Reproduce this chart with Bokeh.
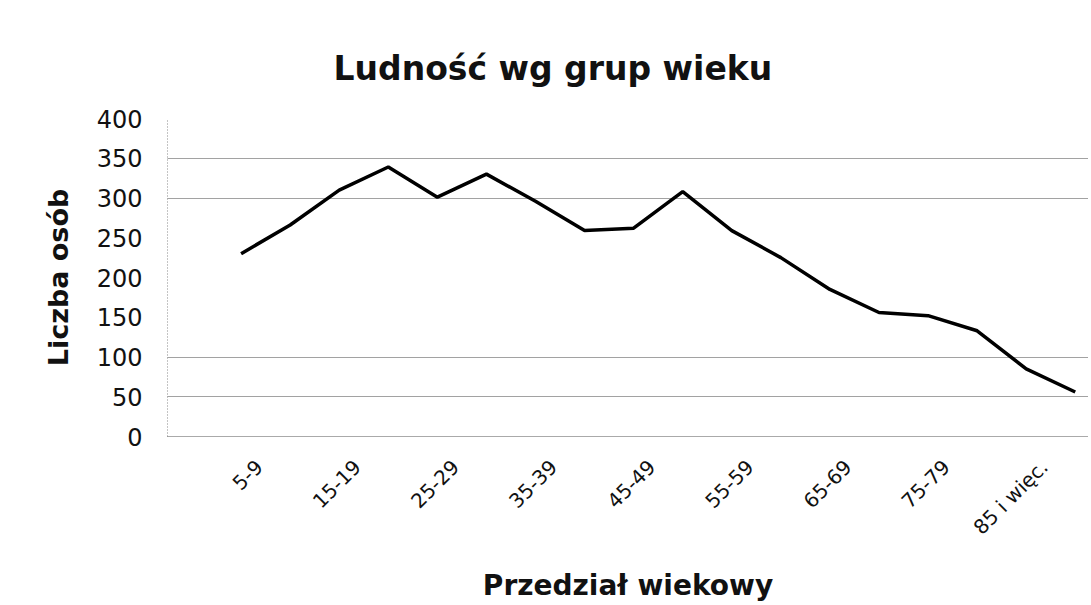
import math
from bokeh.plotting import figure
from bokeh.models import FixedTicker, Range1d
from bokeh.embed import file_html
from bokeh.resources import INLINE

# ---- data ----
age_groups = ["0-4", "5-9", "10-14", "15-19", "20-24", "25-29", "30-34", "35-39",
              "40-44", "45-49", "50-54", "55-59", "60-64", "65-69", "70-74",
              "75-79", "80-84", "85 i więc."]
population = [230, 266, 310, 339, 301, 330, 296, 259, 262, 308, 259, 225,
              185, 156, 152, 133, 85, 56]
y_ticks = [0, 50, 100, 150, 200, 250, 300, 350, 400]
grid_levels = [50, 100, 300, 350]

title_text = "Ludność wg grup wieku"
x_title = "Przedział wiekowy"
y_title = "Liczba osób"

# category positions (first slot on the axis is an empty category)
positions = list(range(1, len(age_groups) + 1))
label_pos = [positions[i] - 0.63 for i in range(1, len(age_groups), 2)]
label_txt = [age_groups[i] for i in range(1, len(age_groups), 2)]

FONT = "DejaVu Sans"

p = figure(width=1088, height=604, output_backend="svg", toolbar_location=None,
           x_range=Range1d(-0.5, 18.27), y_range=Range1d(0, 400),
           min_border_left=167, min_border_right=0, min_border_top=118,
           min_border_bottom=163)
p.outline_line_color = None
p.background_fill_color = "white"
p.border_fill_color = "white"

p.title.text = title_text
p.title.text_font = FONT
p.title.text_font_size = "33px"
p.title.text_font_style = "bold"
p.title.text_color = "#111111"
p.title.align = "left"
p.title.offset = 166
p.title.standoff = 62

p.line(positions, population, line_color="black", line_width=3.5)

# y axis
yax = p.yaxis[0]
yax.ticker = FixedTicker(ticks=y_ticks)
yax.major_tick_line_color = None
yax.minor_tick_line_color = None
yax.axis_line_color = "#888888"
yax.axis_line_dash = "1 2"
yax.major_label_text_font = FONT
yax.major_label_text_font_size = "24px"
yax.major_label_text_color = "#111111"
yax.major_label_standoff = 19
yax.axis_label = y_title
yax.axis_label_text_font = FONT
yax.axis_label_text_font_size = "27px"
yax.axis_label_text_font_style = "bold"
yax.axis_label_text_color = "#111111"
yax.axis_label_standoff = 20

# x axis
xax = p.xaxis[0]
xax.ticker = FixedTicker(ticks=label_pos)
xax.major_label_overrides = {pos: txt for pos, txt in zip(label_pos, label_txt)}
xax.major_tick_line_color = None
xax.minor_tick_line_color = None
xax.axis_line_color = "#555555"
xax.axis_line_dash = "1 1"
xax.major_label_orientation = math.pi / 4
xax.major_label_text_font = FONT
xax.major_label_text_font_size = "20px"
xax.major_label_text_color = "#111111"
xax.major_label_standoff = 21
xax.axis_label = x_title
xax.axis_label_text_font = FONT
xax.axis_label_text_font_size = "28px"
xax.axis_label_text_font_style = "bold"
xax.axis_label_text_color = "#111111"
xax.axis_label_standoff = 18

p.xgrid.grid_line_color = None
p.ygrid.ticker = FixedTicker(ticks=grid_levels)
p.ygrid.grid_line_color = "#444444"
p.ygrid.grid_line_dash = "1 1"
p.ygrid.grid_line_width = 1

open("out.html", "w").write(file_html(p, INLINE))
